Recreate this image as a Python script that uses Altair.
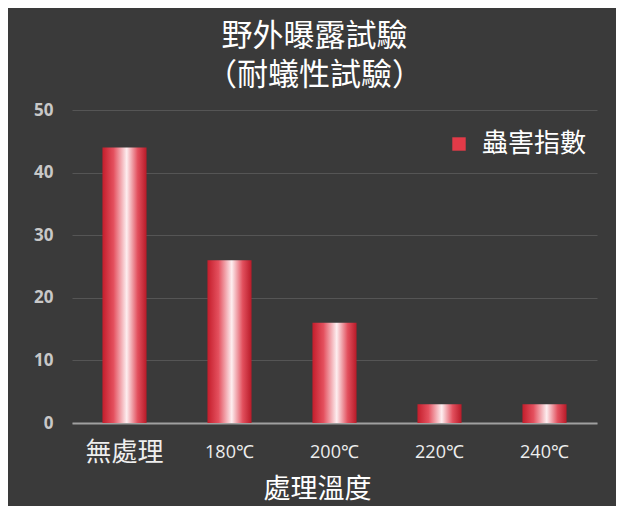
import altair as alt
import pandas as pd

categories = ["無處理", "180℃", "200℃", "220℃", "240℃"]
values = [44, 26, 16, 3, 3]
series_name = "蟲害指數"
y_ticks = [0, 10, 20, 30, 40, 50]
title_lines = ["野外曝露試驗", "（耐蟻性試驗）"]
x_title = "處理溫度"

df = pd.DataFrame({"category": categories, "value": values, "series": [series_name] * len(categories)})

grad = alt.Gradient(
    gradient="linear", x1=0, x2=1, y1=0, y2=0,
    stops=[
        alt.GradientStop(offset=0, color="#c41d2b"),
        alt.GradientStop(offset=0.25, color="#e4505e"),
        alt.GradientStop(offset=0.55, color="#fdeef0"),
        alt.GradientStop(offset=0.8, color="#e24f5d"),
        alt.GradientStop(offset=1, color="#b81a28"),
    ],
)

x_enc = alt.X(
    "category:N", sort=categories,
    scale=alt.Scale(paddingInner=0.58, paddingOuter=0.29),
    axis=alt.Axis(
        title=x_title, labelAngle=0, ticks=False, grid=False,
        domainColor="#a0a0a0", domainWidth=2,
        labelColor="#eeeeee",
        labelFontSize={"condition": {"test": "datum.value === '無處理'", "value": 26}, "value": 18},
        labelFont={"condition": {"test": "datum.value === '無處理'", "value": "Noto Sans CJK TC"}, "value": "Open Sans"},
        labelBaseline="middle", labelPadding=29,
        titleFont="Noto Sans CJK TC", titleFontSize=27, titleFontWeight="normal",
        titleColor="#ffffff", titlePadding=11, titleX=245,
    ),
)
y_enc = alt.Y(
    "value:Q", scale=alt.Scale(domain=[0, 50]),
    axis=alt.Axis(
        values=y_ticks, title=None, domain=False, ticks=False,
        labelPadding=19, labelFontSize=17, labelFontWeight="bold",
        labelColor="#c8c8c8", labelFont="Open Sans",
        gridColor="#555555", gridWidth=1,
    ),
)

bars = alt.Chart(df).mark_bar(color=grad).encode(x=x_enc, y=y_enc)

legend_layer = alt.Chart(df).mark_bar(opacity=0).encode(
    x=x_enc, y=y_enc,
    color=alt.Color(
        "series:N",
        scale=alt.Scale(range=["#e23a48"]),
        legend=alt.Legend(
            title=None, orient="none", legendX=374, legendY=21,
            symbolType="square", symbolSize=180, symbolOpacity=1,
            labelFont="Noto Sans CJK TC", labelFontSize=26, labelColor="#ffffff",
            labelOffset=10,
        ),
    ),
)

chart = alt.layer(bars, legend_layer).properties(
    width=525, height=313,
    padding={"left": 64, "top": 102, "right": 19, "bottom": 83},
    autosize="none",
    title=alt.Title(
        title_lines, fontSize=31, color="#ffffff", font="Noto Sans CJK TC",
        fontWeight="normal", anchor="middle", dx=-20, offset=9, lineHeight=39,
    ),
).configure(background="#3a3a3a").configure_view(stroke=None)

chart.save("out.html", embed_options={"renderer": "svg", "actions": False})
